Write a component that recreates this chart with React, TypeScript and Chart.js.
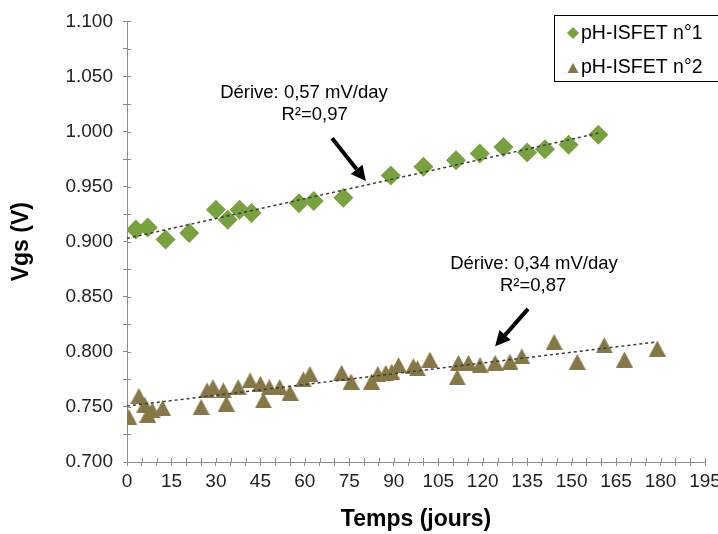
import React, { useEffect, useRef } from 'react';
import { Chart, registerables } from 'chart.js';

Chart.register(...registerables);

const series1Label = 'pH-ISFET n°1';
const series2Label = 'pH-ISFET n°2';

const series1Days = [3, 7, 13, 21, 30, 34, 38, 42, 58, 63, 73, 89, 100, 111, 119, 127, 135, 141, 149, 159];
const series1Vgs = [0.911, 0.913, 0.902, 0.908, 0.929, 0.920, 0.929, 0.926, 0.935, 0.937, 0.940, 0.960, 0.968, 0.974, 0.980, 0.986, 0.981, 0.984, 0.988, 0.997];

const series2Days = [0.6, 4, 6, 7, 8.5, 12, 25, 27, 29, 32.5, 33.5, 37.5, 41.5, 45, 46, 48, 51.5, 55, 59.5, 61.7, 72.4, 75.6, 82.5, 84.6, 87.3, 89.3, 91.6, 96.6, 98, 102.2, 111.4, 111.8, 115.2, 119.1, 124.2, 129.2, 133.2, 144.1, 151.9, 161, 167.8, 178.9];
const series2Vgs = [0.741, 0.760, 0.752, 0.743, 0.747, 0.749, 0.750, 0.765, 0.768, 0.765, 0.753, 0.768, 0.774, 0.771, 0.756, 0.768, 0.768, 0.763, 0.775, 0.780, 0.781, 0.773, 0.773, 0.780, 0.781, 0.782, 0.788, 0.787, 0.785, 0.793, 0.777, 0.790, 0.790, 0.788, 0.790, 0.791, 0.796, 0.809, 0.791, 0.806, 0.793, 0.803];

const xMin = 0;
const xMax = 195;
const xMinorStep = 5;
const xMajorStep = 15;
const yMin = 0.7;
const yMax = 1.1;
const yMinorStep = 0.025;
const yMajorStep = 0.05;

const xTitle = 'Temps (jours)';
const yTitle = 'Vgs (V)';

const annotation1Lines = ['Dérive: 0,57 mV/day', 'R²=0,97'];
const annotation2Lines = ['Dérive: 0,34 mV/day', 'R²=0,87'];

const COLOR1 = '#78A23F';
const COLOR2 = '#857846';
const AXIS = '#8C8C8C';
const FONT = '"Liberation Sans", Arial, sans-serif';

function linearFit(xs: number[], ys: number[]) {
  const n = xs.length;
  const mx = xs.reduce((a, b) => a + b, 0) / n;
  const my = ys.reduce((a, b) => a + b, 0) / n;
  let sxy = 0;
  let sxx = 0;
  for (let i = 0; i < n; i++) {
    sxy += (xs[i] - mx) * (ys[i] - my);
    sxx += (xs[i] - mx) * (xs[i] - mx);
  }
  const m = sxy / sxx;
  return { m, b: my - m * mx };
}

function trendPoints(xs: number[], ys: number[]) {
  const { m, b } = linearFit(xs, ys);
  const end = Math.max(...xs);
  return [
    { x: 0, y: b },
    { x: end, y: b + m * end },
  ];
}

const annotations = [
  { lines: annotation1Lines, text: [{ d: 59.7, v: 1.035 }, { d: 63.3, v: 1.015 }], tail: { d: 69.2, v: 0.994 }, tip: { d: 80.6, v: 0.955 } },
  { lines: annotation2Lines, text: [{ d: 137.3, v: 0.88 }, { d: 137, v: 0.86 }], tail: { d: 135.3, v: 0.839 }, tip: { d: 124.2, v: 0.805 } },
];

function makeTriangle(color: string, w: number, h: number) {
  const c = document.createElement('canvas');
  c.width = w;
  c.height = h;
  const g = c.getContext('2d') as CanvasRenderingContext2D;
  g.fillStyle = color;
  g.beginPath();
  g.moveTo(w / 2, 0);
  g.lineTo(w, h);
  g.lineTo(0, h);
  g.closePath();
  g.fill();
  return c;
}

function drawDiamond(ctx: CanvasRenderingContext2D, x: number, y: number, r: number) {
  ctx.beginPath();
  ctx.moveTo(x - r, y);
  ctx.lineTo(x, y - r);
  ctx.lineTo(x + r, y);
  ctx.lineTo(x, y + r);
  ctx.closePath();
  ctx.fill();
}

function drawTriangle(ctx: CanvasRenderingContext2D, x: number, y: number, w: number, h: number) {
  ctx.beginPath();
  ctx.moveTo(x, y - h / 2);
  ctx.lineTo(x + w / 2, y + h / 2);
  ctx.lineTo(x - w / 2, y + h / 2);
  ctx.closePath();
  ctx.fill();
}

const crossTicksPlugin = {
  id: 'crossTicks',
  afterDraw(chart: any) {
    const { ctx, chartArea } = chart;
    const xs = chart.scales.x;
    const ys = chart.scales.y;
    ctx.save();
    ctx.strokeStyle = AXIS;
    ctx.lineWidth = 1;
    ctx.beginPath();
    xs.ticks.forEach((t: any) => {
      const px = Math.round(xs.getPixelForValue(t.value)) + 0.5;
      ctx.moveTo(px, chartArea.bottom);
      ctx.lineTo(px, chartArea.bottom - 4);
    });
    ys.ticks.forEach((t: any) => {
      const py = Math.round(ys.getPixelForValue(t.value)) + 0.5;
      ctx.moveTo(chartArea.left, py);
      ctx.lineTo(chartArea.left + 4, py);
    });
    ctx.stroke();
    ctx.restore();
  },
};

const legendPlugin = {
  id: 'boxLegend',
  afterDraw(chart: any) {
    const { ctx } = chart;
    const items = chart.data.datasets.filter((d: any) => d.legendMarker);
    ctx.save();
    ctx.strokeStyle = '#000';
    ctx.lineWidth = 1;
    ctx.strokeRect(554.5, 15.5, 200, 66);
    ctx.font = '19.5px ' + FONT;
    ctx.textBaseline = 'middle';
    ctx.textAlign = 'left';
    items.forEach((d: any, i: number) => {
      const cy = 33 + i * 34;
      ctx.fillStyle = d.legendColor;
      if (d.legendMarker === 'diamond') drawDiamond(ctx, 573, cy, 6);
      else drawTriangle(ctx, 573, cy + 1, 11, 10);
      ctx.fillStyle = '#000';
      ctx.fillText(d.label, 581, cy + 1);
    });
    ctx.restore();
  },
};

const annotationPlugin = {
  id: 'driftNotes',
  afterDraw(chart: any) {
    const { ctx } = chart;
    const xs = chart.scales.x;
    const ys = chart.scales.y;
    ctx.save();
    ctx.font = '18.5px ' + FONT;
    ctx.fillStyle = '#000';
    ctx.textAlign = 'center';
    ctx.textBaseline = 'middle';
    annotations.forEach((a) => {
      a.lines.forEach((line, i) => {
        ctx.fillText(line, xs.getPixelForValue(a.text[i].d), ys.getPixelForValue(a.text[i].v));
      });
      const x0 = xs.getPixelForValue(a.tail.d);
      const y0 = ys.getPixelForValue(a.tail.v);
      const x1 = xs.getPixelForValue(a.tip.d);
      const y1 = ys.getPixelForValue(a.tip.v);
      const ang = Math.atan2(y1 - y0, x1 - x0);
      const headLen = 15;
      const headW = 7.5;
      const bx = x1 - Math.cos(ang) * headLen;
      const by = y1 - Math.sin(ang) * headLen;
      ctx.strokeStyle = '#000';
      ctx.lineWidth = 4;
      ctx.beginPath();
      ctx.moveTo(x0, y0);
      ctx.lineTo(bx, by);
      ctx.stroke();
      ctx.beginPath();
      ctx.moveTo(x1, y1);
      ctx.lineTo(bx + Math.sin(ang) * headW, by - Math.cos(ang) * headW);
      ctx.lineTo(bx - Math.sin(ang) * headW, by + Math.cos(ang) * headW);
      ctx.closePath();
      ctx.fill();
    });
    ctx.restore();
  },
};

export default function App() {
  const canvasRef = useRef<HTMLCanvasElement | null>(null);

  useEffect(() => {
    document.body.style.margin = '0';
    const canvas = canvasRef.current;
    if (!canvas) return;

    const s1 = series1Days.map((d, i) => ({ x: d, y: series1Vgs[i] }));
    const s2 = series2Days.map((d, i) => ({ x: d, y: series2Vgs[i] }));
    const triangleImg = makeTriangle(COLOR2, 17, 16);

    const chart = new Chart(canvas, {
      type: 'scatter',
      data: {
        datasets: [
          {
            type: 'line',
            label: 'trend1',
            data: trendPoints(series1Days, series1Vgs),
            borderColor: '#3A3A3A',
            borderWidth: 1.5,
            borderDash: [3, 3],
            pointRadius: 0,
            fill: false,
            order: 0,
          } as any,
          {
            type: 'line',
            label: 'trend2',
            data: trendPoints(series2Days, series2Vgs),
            borderColor: '#3A3A3A',
            borderWidth: 1.5,
            borderDash: [3, 3],
            pointRadius: 0,
            fill: false,
            order: 0,
          } as any,
          {
            label: series1Label,
            data: s1,
            pointStyle: 'rectRot',
            pointRadius: 10,
            backgroundColor: COLOR1,
            borderWidth: 0,
            order: 1,
            legendMarker: 'diamond',
            legendColor: COLOR1,
          } as any,
          {
            label: series2Label,
            data: s2,
            pointStyle: triangleImg,
            pointRadius: 9,
            backgroundColor: COLOR2,
            borderWidth: 0,
            order: 1,
            legendMarker: 'triangle',
            legendColor: COLOR2,
          } as any,
        ],
      },
      options: {
        responsive: false,
        animation: false,
        layout: { padding: { top: 20, right: 13, bottom: 0, left: 0 } },
        plugins: {
          legend: { display: false },
          tooltip: { enabled: false },
        },
        scales: {
          x: {
            type: 'linear',
            min: xMin,
            max: xMax,
            afterFit: (s: any) => {
              s.height = 72;
              s.paddingRight = 0;
            },
            ticks: {
              stepSize: xMinorStep,
              autoSkip: false,
              maxRotation: 0,
              color: '#222',
              padding: 4,
              font: { family: FONT, size: 19 },
              callback: (v: any) => (Math.round(Number(v)) % xMajorStep === 0 ? String(Math.round(Number(v))) : ''),
            },
            grid: { display: true, drawOnChartArea: false, drawTicks: true, tickLength: 4, color: AXIS },
            border: { display: true, color: AXIS, width: 1 },
            title: {
              display: true,
              text: xTitle,
              color: '#000',
              font: { family: FONT, size: 23, weight: 'bold' },
              padding: { top: 0, bottom: 1 },
            },
          },
          y: {
            type: 'linear',
            min: yMin,
            max: yMax,
            afterFit: (s: any) => {
              s.width = 127;
            },
            ticks: {
              stepSize: yMinorStep,
              autoSkip: false,
              color: '#222',
              padding: 10,
              font: { family: FONT, size: 19 },
              callback: (v: any) => {
                const k = Math.round(Number(v) * 1000);
                return k % Math.round(yMajorStep * 1000) === 0 ? (k / 1000).toFixed(3) : '';
              },
            },
            grid: { display: true, drawOnChartArea: false, drawTicks: true, tickLength: 4, color: AXIS },
            border: { display: true, color: AXIS, width: 1 },
            title: {
              display: true,
              text: yTitle,
              color: '#000',
              font: { family: FONT, size: 23, weight: 'bold' },
              padding: { top: 8, bottom: 0 },
            },
          },
        },
      },
      plugins: [crossTicksPlugin, annotationPlugin, legendPlugin],
    });

    return () => {
      chart.destroy();
    };
  }, []);

  return (
    <div style={{ width: 718, height: 534 }}>
      <canvas ref={canvasRef} width={718} height={534} style={{ display: 'block' }} />
    </div>
  );
}
